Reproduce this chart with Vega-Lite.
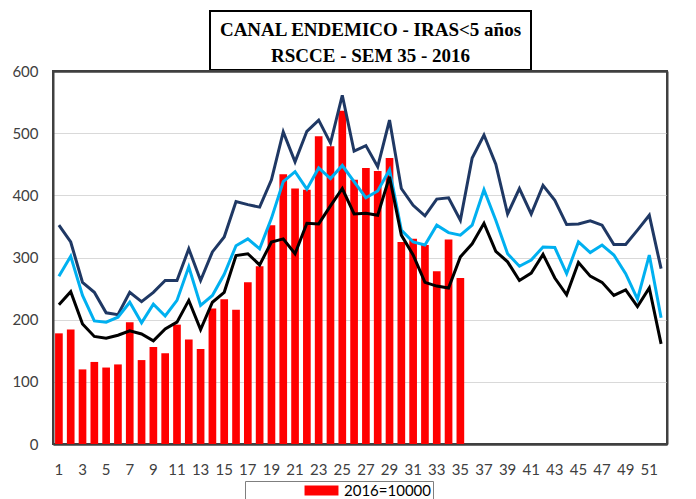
{
  "$schema": "https://vega.github.io/schema/vega-lite/v6.json",
  "background": "white",
  "padding": {"left": 10, "top": 10, "right": 0, "bottom": 0},
  "spacing": -16,
  "vconcat": [
    {
      "spacing": 0,
      "hconcat": [
        {
          "width": 156, "height": 59,
          "data": {"values": [{"t": ""}]},
          "mark": "text",
          "encoding": {"text": {"field": "t"}},
          "view": {"stroke": null, "fill": "white"}
        },
        {
          "width": 321, "height": 59,
          "data": {"values": [
            {"row": 1, "line": "CANAL ENDEMICO - IRAS<5 años"},
            {"row": 2, "line": "RSCCE - SEM 35 - 2016"}
          ]},
          "mark": {"type": "text", "font": "Liberation Serif", "fontWeight": "bold", "fontSize": 19, "color": "black", "baseline": "middle"},
          "encoding": {
            "y": {"field": "row", "type": "ordinal", "axis": null, "scale": {"padding": 0.635, "align": 0.58}},
            "text": {"field": "line"}
          },
          "view": {"stroke": "black", "strokeWidth": 2}
        }
      ]
    },
    {
      "width": 614, "height": 373,
      "view": {"stroke": "#404040", "strokeWidth": 2},
      "resolve": {"axis": {"x": "independent", "y": "independent"}},
      "data": {"values": [
        {"semana": 1, "casos": 178, "alto": 352, "medio": 270, "bajo": 224},
        {"semana": 2, "casos": 184, "alto": 325, "medio": 302, "bajo": 245},
        {"semana": 3, "casos": 120, "alto": 260, "medio": 239, "bajo": 193},
        {"semana": 4, "casos": 132, "alto": 244, "medio": 198, "bajo": 173},
        {"semana": 5, "casos": 123, "alto": 211, "medio": 196, "bajo": 170},
        {"semana": 6, "casos": 128, "alto": 208, "medio": 204, "bajo": 175},
        {"semana": 7, "casos": 196, "alto": 244, "medio": 228, "bajo": 182},
        {"semana": 8, "casos": 135, "alto": 229, "medio": 195, "bajo": 177},
        {"semana": 9, "casos": 156, "alto": 244, "medio": 225, "bajo": 166},
        {"semana": 10, "casos": 146, "alto": 263, "medio": 206, "bajo": 185},
        {"semana": 11, "casos": 192, "alto": 263, "medio": 231, "bajo": 196},
        {"semana": 12, "casos": 168, "alto": 314, "medio": 285, "bajo": 231},
        {"semana": 13, "casos": 153, "alto": 263, "medio": 223, "bajo": 184},
        {"semana": 14, "casos": 218, "alto": 309, "medio": 239, "bajo": 228},
        {"semana": 15, "casos": 233, "alto": 333, "medio": 273, "bajo": 244},
        {"semana": 16, "casos": 216, "alto": 390, "medio": 319, "bajo": 303},
        {"semana": 17, "casos": 260, "alto": 385, "medio": 330, "bajo": 306},
        {"semana": 18, "casos": 286, "alto": 381, "medio": 314, "bajo": 288},
        {"semana": 19, "casos": 352, "alto": 425, "medio": 363, "bajo": 325},
        {"semana": 20, "casos": 434, "alto": 502, "medio": 422, "bajo": 330},
        {"semana": 21, "casos": 411, "alto": 454, "medio": 438, "bajo": 306},
        {"semana": 22, "casos": 409, "alto": 503, "medio": 410, "bajo": 355},
        {"semana": 23, "casos": 495, "alto": 521, "medio": 444, "bajo": 354},
        {"semana": 24, "casos": 479, "alto": 484, "medio": 427, "bajo": 383},
        {"semana": 25, "casos": 536, "alto": 561, "medio": 448, "bajo": 411},
        {"semana": 26, "casos": 425, "alto": 471, "medio": 422, "bajo": 370},
        {"semana": 27, "casos": 444, "alto": 480, "medio": 396, "bajo": 371},
        {"semana": 28, "casos": 439, "alto": 446, "medio": 407, "bajo": 368},
        {"semana": 29, "casos": 460, "alto": 521, "medio": 441, "bajo": 430},
        {"semana": 30, "casos": 325, "alto": 411, "medio": 344, "bajo": 336},
        {"semana": 31, "casos": 330, "alto": 384, "medio": 325, "bajo": 304},
        {"semana": 32, "casos": 320, "alto": 367, "medio": 320, "bajo": 260},
        {"semana": 33, "casos": 278, "alto": 394, "medio": 352, "bajo": 254},
        {"semana": 34, "casos": 329, "alto": 396, "medio": 340, "bajo": 251},
        {"semana": 35, "casos": 267, "alto": 360, "medio": 336, "bajo": 301},
        {"semana": 36, "casos": null, "alto": 460, "medio": 352, "bajo": 322},
        {"semana": 37, "casos": null, "alto": 497, "medio": 409, "bajo": 355},
        {"semana": 38, "casos": null, "alto": 450, "medio": 360, "bajo": 310},
        {"semana": 39, "casos": null, "alto": 370, "medio": 306, "bajo": 293},
        {"semana": 40, "casos": null, "alto": 411, "medio": 286, "bajo": 263},
        {"semana": 41, "casos": null, "alto": 370, "medio": 296, "bajo": 275},
        {"semana": 42, "casos": null, "alto": 416, "medio": 317, "bajo": 305},
        {"semana": 43, "casos": null, "alto": 392, "medio": 316, "bajo": 267},
        {"semana": 44, "casos": null, "alto": 353, "medio": 274, "bajo": 240},
        {"semana": 45, "casos": null, "alto": 354, "medio": 325, "bajo": 292},
        {"semana": 46, "casos": null, "alto": 359, "medio": 308, "bajo": 270},
        {"semana": 47, "casos": null, "alto": 352, "medio": 320, "bajo": 260},
        {"semana": 48, "casos": null, "alto": 321, "medio": 304, "bajo": 239},
        {"semana": 49, "casos": null, "alto": 321, "medio": 274, "bajo": 248},
        {"semana": 50, "casos": null, "alto": 344, "medio": 233, "bajo": 221},
        {"semana": 51, "casos": null, "alto": 368, "medio": 304, "bajo": 251},
        {"semana": 52, "casos": null, "alto": 282, "medio": 203, "bajo": 161}
      ]},
      "encoding": {
        "x": {
          "field": "semana", "type": "ordinal",
          "scale": {"paddingInner": 0.35, "paddingOuter": 0.175},
          "axis": null
        }
      },
      "layer": [
        {
          "mark": {"type": "bar"},
          "encoding": {
            "x": {
              "field": "semana", "type": "ordinal",
              "scale": {"paddingInner": 0.35, "paddingOuter": 0.175},
              "axis": {
                "title": null, "labelAngle": 0, "ticks": false, "grid": false,
                "domain": true, "domainColor": "#404040", "domainWidth": 2,
                "values": [1,3,5,7,9,11,13,15,17,19,21,23,25,27,29,31,33,35,37,39,41,43,45,47,49,51],
                "labelFont": "Lato", "labelFontSize": 15, "labelColor": "#404040", "labelPadding": 18
              }
            },
            "y": {
              "field": "casos", "type": "quantitative",
              "scale": {"domain": [0, 600]},
              "axis": {
                "title": null, "values": [0,100,200,300,400,500,600],
                "ticks": false, "domain": true, "domainColor": "#404040", "domainWidth": 2,
                "grid": true, "gridWidth": {"condition": {"test": "datum.value == 0 || datum.value == 600", "value": 2}, "value": 1},
                "gridColor": {"condition": {"test": "datum.value == 0 || datum.value == 600", "value": "#404040"}, "value": "#d9d9d9"},
                "labelFont": "Lato", "labelFontSize": 15, "labelColor": "#404040", "labelPadding": 15
              }
            },
            "fill": {
              "datum": "2016=10000",
              "scale": {"range": ["#ff0000"]},
              "legend": {
                "title": null, "orient": "none", "legendX": 192, "legendY": 470,
                "strokeColor": "#7f7f7f", "padding": 2,
                "symbolType": "M-3,-0.9H3V0.9H-3Z", "symbolSize": 128, "symbolStrokeWidth": 0,
                "symbolOffset": 67, "labelOffset": 15,
                "labelFont": "Lato", "labelFontSize": 15, "labelColor": "#000000",
                "labelExpr": "datum.label + '               '"
              }
            }
          }
        },
        {
          "mark": {"type": "line", "color": "#1f3864", "strokeWidth": 3},
          "encoding": {
            "x": {
              "field": "semana", "type": "ordinal",
              "scale": {"paddingInner": 0.35, "paddingOuter": 0.175},
              "axis": {"orient": "top", "title": null, "labels": false, "ticks": false, "grid": false,
                       "domain": true, "domainColor": "#404040", "domainWidth": 2}
            },
            "y": {
              "field": "alto", "type": "quantitative",
              "axis": {"orient": "right", "title": null, "labels": false, "ticks": false, "grid": false,
                       "domain": true, "domainColor": "#404040", "domainWidth": 2}
            }
          }
        },
        {
          "mark": {"type": "line", "color": "#00b0f0", "strokeWidth": 3},
          "encoding": {"y": {"field": "medio", "type": "quantitative", "axis": null}}
        },
        {
          "mark": {"type": "line", "color": "#000000", "strokeWidth": 3},
          "encoding": {"y": {"field": "bajo", "type": "quantitative", "axis": null}}
        }
      ]
    }
  ]
}
